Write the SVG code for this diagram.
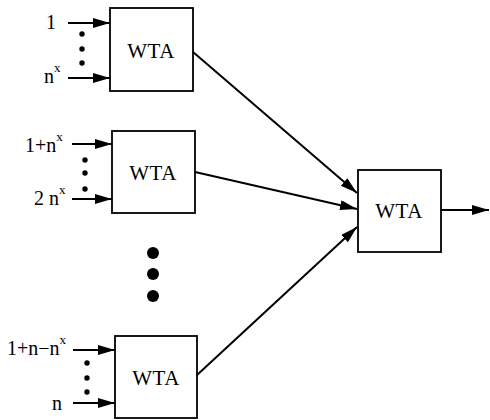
<svg xmlns="http://www.w3.org/2000/svg" width="490" height="420" viewBox="0 0 490 420">
<style>
.box{fill:#fff;stroke:#000;stroke-width:1.8}
.t{font-family:"Liberation Serif","Times New Roman",serif;font-size:20px;fill:#000}
.w{font-family:"Liberation Serif","Times New Roman",serif;font-size:21px;letter-spacing:0.5px;fill:#000;text-anchor:middle}
.sup{font-size:13px}
.ln{stroke:#000;stroke-width:2;fill:none;marker-end:url(#ah)}
</style>
<defs>
<marker id="ah" markerUnits="userSpaceOnUse" markerWidth="18" markerHeight="12" refX="17" refY="5" orient="auto">
<path d="M0,0 L17,5 L0,10 Z" fill="#000"/>
</marker>
</defs>
<rect width="490" height="420" fill="#fff"/>
<g id="wta1">
<rect class="box" x="110" y="8" width="83" height="83"/>
<text class="w" x="151" y="58">WTA</text>
<text class="t" x="46" y="29">1</text>
<text class="t" x="44" y="83">n<tspan class="sup" dy="-11">x</tspan></text>
<circle cx="82" cy="34" r="2.7"/><circle cx="82" cy="49" r="2.7"/><circle cx="82" cy="63" r="2.7"/>
</g>
<g id="wta2">
<rect class="box" x="112" y="131" width="83" height="82"/>
<text class="w" x="153" y="180">WTA</text>
<text class="t" x="25" y="152">1+n<tspan class="sup" dy="-11">x</tspan></text>
<text class="t" x="34" y="205">2 n<tspan class="sup" dy="-11">x</tspan></text>
<circle cx="85" cy="160" r="2.7"/><circle cx="85" cy="173" r="2.7"/><circle cx="85" cy="189" r="2.7"/>
</g>
<g id="wta3">
<rect class="box" x="115" y="336" width="82" height="82"/>
<text class="w" x="156" y="385">WTA</text>
<text class="t" x="7" y="355">1+n−n<tspan class="sup" dy="-11">x</tspan></text>
<text class="t" x="52" y="410">n</text>
<circle cx="87" cy="363" r="2.7"/><circle cx="87" cy="378" r="2.7"/><circle cx="87" cy="392" r="2.7"/>
</g>
<g id="wta4">
<rect class="box" x="358" y="170" width="83" height="82"/>
<text class="w" x="399" y="218">WTA</text>
</g>
<g id="bigdots">
<circle cx="153" cy="253" r="6"/><circle cx="153" cy="274" r="6"/><circle cx="153" cy="296" r="6"/>
</g>
<g id="connectors">
<line class="ln" x1="68" y1="23" x2="110" y2="23"/>
<line class="ln" x1="68" y1="78" x2="110" y2="78"/>
<line class="ln" x1="72" y1="144" x2="112" y2="144"/>
<line class="ln" x1="72" y1="199" x2="112" y2="199"/>
<line class="ln" x1="73" y1="350" x2="115" y2="350"/>
<line class="ln" x1="73" y1="403" x2="115" y2="403"/>
<line class="ln" x1="193" y1="52" x2="357" y2="193"/>
<line class="ln" x1="195" y1="172" x2="357" y2="209"/>
<line class="ln" x1="197" y1="375" x2="357" y2="227"/>
<line class="ln" x1="441" y1="210" x2="489" y2="210"/>
</g>
</svg>
